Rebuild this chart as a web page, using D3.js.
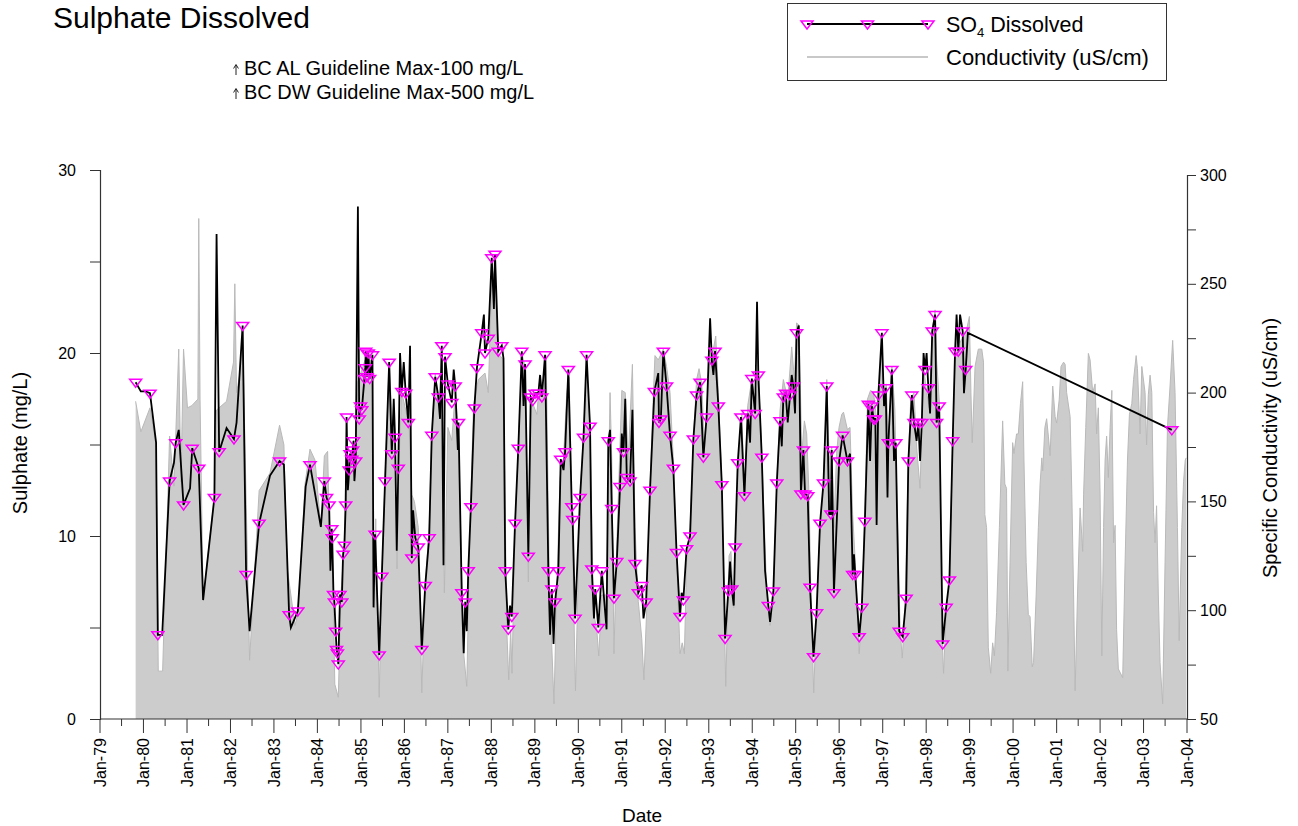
<!DOCTYPE html>
<html>
<head>
<meta charset="utf-8">
<script src="https://cdn.jsdelivr.net/npm/d3@7"></script>
<style>
  body { margin: 0; background: #fff; }
  svg text { font-family: "Liberation Sans", Arial, Helvetica, sans-serif; fill: #000; }
</style>
</head>
<body>
<svg id="chart" width="1298" height="826"></svg>
<script>
// Sulphate, dissolved (mg/L): [decimal year, value, marker drawn (1) or not (0)]
const so4 = [
  [1979.82,18.4,1],[1979.94,17.9,0],[1980.04,17.9,0],[1980.15,17.8,1],[1980.29,15.1,0],[1980.33,4.6,1],
  [1980.43,4.6,0],[1980.60,13.0,1],[1980.70,14.0,0],[1980.74,15.1,1],[1980.81,15.8,0],[1980.92,11.7,1],
  [1981.07,12.6,0],[1981.12,14.8,1],[1981.27,13.7,1],[1981.37,6.5,0],[1981.63,12.1,1],[1981.68,26.5,0],
  [1981.74,14.6,1],[1981.91,15.9,0],[1982.08,15.3,1],[1982.14,16.2,0],[1982.28,21.5,1],[1982.36,7.9,1],
  [1982.44,4.8,0],[1982.66,10.7,1],[1982.91,13.3,0],[1983.13,14.1,1],[1983.23,13.9,0],[1983.35,5.7,1],
  [1983.39,5.0,0],[1983.55,5.9,1],[1983.73,12.7,0],[1983.83,13.9,1],[1984.08,10.5,0],[1984.16,13.0,1],
  [1984.21,12.1,1],[1984.27,11.7,1],[1984.30,8.1,0],[1984.33,10.4,1],[1984.34,9.9,1],[1984.37,6.8,1],
  [1984.39,6.4,1],[1984.42,4.8,1],[1984.44,3.8,1],[1984.46,3.6,1],[1984.48,3.0,1],[1984.52,6.8,1],
  [1984.56,6.4,1],[1984.59,9.0,1],[1984.62,9.5,1],[1984.65,11.7,1],[1984.67,16.5,1],[1984.70,12.5,0],
  [1984.73,13.6,1],[1984.75,14.5,1],[1984.79,14.2,1],[1984.81,14.7,1],[1984.83,15.2,1],[1984.85,13.0,0],
  [1984.88,14.1,1],[1984.93,28.0,0],[1984.96,16.4,1],[1984.99,17.1,1],[1985.02,16.9,1],[1985.08,18.6,1],
  [1985.10,19.2,1],[1985.11,20.1,1],[1985.14,18.7,1],[1985.17,20.0,1],[1985.20,18.6,1],[1985.265,19.9,1],
  [1985.29,6.1,0],[1985.325,10.1,1],[1985.42,3.5,1],[1985.48,7.8,1],[1985.555,13.0,1],[1985.65,19.5,1],
  [1985.71,14.5,1],[1985.755,17.5,0],[1985.785,15.4,1],[1985.824,9.2,0],[1985.86,13.7,1],[1985.90,20.0,0],
  [1985.94,17.9,1],[1985.985,19.5,0],[1986.03,17.8,1],[1986.09,16.2,1],[1986.13,20.4,0],[1986.17,8.8,1],
  [1986.20,11.4,0],[1986.25,9.9,1],[1986.32,9.4,1],[1986.40,3.8,1],[1986.48,7.3,1],[1986.57,9.9,1],
  [1986.63,15.5,1],[1986.71,18.7,1],[1986.78,17.6,1],[1986.82,16.4,0],[1986.86,20.4,1],[1986.90,8.4,0],
  [1986.935,19.8,1],[1987.00,18.3,1],[1987.09,17.3,1],[1987.135,19.1,0],[1987.17,18.2,1],[1987.23,14.7,0],
  [1987.245,16.2,1],[1987.32,6.9,1],[1987.365,3.6,0],[1987.40,6.4,1],[1987.435,4.8,0],[1987.47,8.1,1],
  [1987.53,11.6,1],[1987.61,17.0,1],[1987.67,19.2,1],[1987.78,21.1,1],[1987.83,22.1,0],[1987.855,20.0,1],
  [1987.93,20.8,1],[1988.01,25.2,1],[1988.06,22.4,0],[1988.085,25.4,1],[1988.16,20.1,1],[1988.24,20.4,1],
  [1988.28,19.7,0],[1988.32,8.1,1],[1988.39,4.9,1],[1988.43,6.2,0],[1988.47,5.6,1],[1988.545,10.7,1],
  [1988.62,14.8,1],[1988.70,20.1,1],[1988.74,17.1,0],[1988.775,19.4,1],[1988.85,8.9,1],[1988.905,17.6,1],
  [1988.95,17.4,1],[1989.005,17.8,1],[1989.08,17.8,1],[1989.12,18.8,0],[1989.16,17.6,1],[1989.235,19.9,1],
  [1989.31,8.1,1],[1989.35,4.6,0],[1989.39,7.1,1],[1989.43,4.1,0],[1989.465,6.4,1],[1989.54,8.1,1],
  [1989.595,14.2,1],[1989.66,13.6,0],[1989.695,14.6,1],[1989.77,19.1,1],[1989.85,11.6,1],[1989.87,10.9,1],
  [1989.925,5.5,1],[1990.04,12.1,1],[1990.12,15.4,1],[1990.19,19.9,1],[1990.27,16.0,1],[1990.31,8.2,1],
  [1990.36,5.5,0],[1990.39,7.1,1],[1990.46,5.0,1],[1990.54,8.1,1],[1990.65,4.9,0],[1990.69,15.2,1],
  [1990.73,15.8,0],[1990.77,11.5,1],[1990.82,6.6,1],[1990.885,8.6,1],[1990.92,10.5,0],[1990.96,12.7,1],
  [1991.00,15.6,0],[1991.04,14.6,1],[1991.08,17.5,0],[1991.115,13.2,1],[1991.19,13.0,1],[1991.245,16.9,0],
  [1991.305,8.5,1],[1991.38,6.9,1],[1991.46,7.3,1],[1991.50,5.5,0],[1991.56,6.4,1],[1991.65,12.5,1],
  [1991.75,17.9,1],[1991.84,18.9,0],[1991.856,16.2,1],[1991.90,16.4,1],[1991.956,20.1,1],[1992.03,18.2,1],
  [1992.11,15.5,1],[1992.186,13.7,1],[1992.26,9.1,1],[1992.34,5.6,1],[1992.377,6.9,0],[1992.416,6.5,1],
  [1992.49,9.3,1],[1992.57,10.0,1],[1992.646,15.3,1],[1992.72,17.7,1],[1992.80,18.4,1],[1992.875,14.3,1],
  [1992.95,16.5,1],[1993.03,21.9,0],[1993.07,19.6,1],[1993.106,18.8,0],[1993.144,20.1,1],[1993.22,17.1,1],
  [1993.30,12.8,1],[1993.375,4.4,1],[1993.45,7.0,1],[1993.49,8.6,0],[1993.53,7.1,1],[1993.574,6.2,0],
  [1993.605,9.4,1],[1993.666,14.0,1],[1993.74,16.5,1],[1993.82,12.2,1],[1993.896,16.7,1],[1993.95,15.1,0],
  [1993.99,18.6,1],[1994.066,16.7,1],[1994.11,22.8,0],[1994.14,18.8,1],[1994.22,14.3,1],[1994.295,8.1,0],
  [1994.37,6.2,1],[1994.41,5.3,0],[1994.486,7.0,1],[1994.565,12.9,1],[1994.64,16.3,1],[1994.68,14.9,0],
  [1994.716,17.6,1],[1994.77,17.8,1],[1994.816,16.2,0],[1994.87,17.7,1],[1994.908,18.8,0],[1994.946,18.2,1],
  [1994.985,16.7,0],[1995.02,21.1,1],[1995.07,21.5,0],[1995.12,12.3,1],[1995.177,14.7,1],[1995.215,12.3,1],
  [1995.277,12.2,1],[1995.33,7.2,1],[1995.41,3.4,1],[1995.48,5.8,1],[1995.56,10.7,1],[1995.64,12.9,1],
  [1995.715,18.2,1],[1995.77,11.2,0],[1995.81,11.2,1],[1995.83,14.7,1],[1995.88,6.9,1],[1996.00,14.1,1],
  [1996.08,15.5,1],[1996.19,14.1,1],[1996.25,14.5,0],[1996.31,7.9,1],[1996.34,9.0,0],[1996.37,7.9,1],
  [1996.46,4.5,1],[1996.52,6.1,1],[1996.59,10.8,1],[1996.67,17.2,1],[1996.71,14.1,0],[1996.75,17.1,1],
  [1996.79,16.4,1],[1996.83,16.4,1],[1996.86,10.6,0],[1996.90,17.7,1],[1996.98,21.1,1],[1997.03,17.1,0],
  [1997.07,18.1,1],[1997.11,12.1,0],[1997.13,15.1,1],[1997.21,19.1,1],[1997.26,14.1,0],[1997.30,15.1,1],
  [1997.38,4.8,1],[1997.46,4.5,1],[1997.54,6.6,1],[1997.59,14.1,1],[1997.67,17.7,1],[1997.72,16.2,1],
  [1997.78,15.2,0],[1997.82,16.2,1],[1997.86,14.1,0],[1997.90,16.2,1],[1997.94,20.0,0],[1997.975,19.1,1],
  [1998.01,20.0,0],[1998.05,18.1,1],[1998.09,16.7,0],[1998.14,21.2,1],[1998.205,22.1,1],[1998.24,16.2,1],
  [1998.30,17.1,1],[1998.38,4.1,1],[1998.46,6.1,1],[1998.535,7.6,1],[1998.61,15.2,1],[1998.665,20.1,1],
  [1998.70,22.1,0],[1998.74,20.1,1],[1998.78,22.1,0],[1998.84,21.2,1],[1998.87,17.8,0],[1998.91,19.1,1],
  [1998.96,21.1,0],[2003.65,15.8,1]
];

// Specific conductivity (uS/cm): [decimal year, value]
const conductivity = [
  [1979.82,196],[1979.94,182],[1980.15,193],[1980.29,176],[1980.34,72],[1980.44,72],[1980.57,159],[1980.60,180],
  [1980.70,157],[1980.81,220],[1980.86,159],[1980.92,220],[1981.01,193],[1981.11,194],[1981.25,197],[1981.27,280],
  [1981.30,197],[1981.37,105],[1981.63,152],[1981.68,192],[1981.91,196],[1982.07,214],[1982.10,250],[1982.14,200],
  [1982.22,209],[1982.28,228],[1982.34,170],[1982.44,77],[1982.66,155],[1982.91,163],[1983.13,185],[1983.23,176],
  [1983.30,120],[1983.37,110],[1983.485,93],[1983.56,99],[1983.715,158],[1983.83,174],[1983.945,169],[1984.08,138],
  [1984.16,171],[1984.235,173],[1984.30,118],[1984.34,135],[1984.40,66],[1984.48,60],[1984.54,107],[1984.62,130],
  [1984.67,187],[1984.71,156],[1984.835,178],[1984.865,161],[1984.93,205],[1985.095,215],[1985.265,215],[1985.30,101],
  [1985.34,142],[1985.42,60],[1985.48,114],[1985.555,161],[1985.65,214],[1985.725,184],[1985.785,181],[1985.83,119],
  [1985.877,169],[1985.94,200],[1986.03,192],[1986.11,184],[1986.17,153],[1986.23,150],[1986.32,138],[1986.40,62],
  [1986.48,111],[1986.57,138],[1986.63,181],[1986.71,209],[1986.80,194],[1986.86,221],[1986.92,108],[1987.00,184],
  [1987.09,178],[1987.17,200],[1987.245,181],[1987.32,114],[1987.37,79],[1987.435,65],[1987.51,138],[1987.59,194],
  [1987.70,206],[1987.855,209],[1987.93,200],[1988.01,251],[1988.085,257],[1988.16,218],[1988.28,215],[1988.35,94],
  [1988.40,68],[1988.445,91],[1988.475,71],[1988.545,139],[1988.62,173],[1988.70,218],[1988.775,212],[1988.85,113],
  [1988.905,197],[1988.97,194],[1989.045,190],[1989.12,208],[1989.20,197],[1989.26,217],[1989.335,110],[1989.39,83],
  [1989.44,57],[1989.50,107],[1989.58,161],[1989.66,170],[1989.735,200],[1989.79,207],[1989.85,145],[1989.935,63],
  [1990.04,152],[1990.12,181],[1990.19,212],[1990.27,184],[1990.35,99],[1990.425,91],[1990.47,79],[1990.54,107],
  [1990.65,107],[1990.73,200],[1990.77,169],[1990.82,80],[1990.885,130],[1991.00,201],[1991.08,200],[1991.15,169],
  [1991.245,213],[1991.305,138],[1991.38,104],[1991.46,87],[1991.51,68],[1991.575,101],[1991.65,156],[1991.73,201],
  [1991.764,217],[1991.84,215],[1991.956,220],[1992.03,212],[1992.11,200],[1992.186,169],[1992.26,125],[1992.34,80],
  [1992.39,85],[1992.44,80],[1992.49,122],[1992.57,138],[1992.646,178],[1992.72,206],[1992.776,211],[1992.84,204],
  [1992.90,173],[1992.95,190],[1993.006,212],[1993.106,220],[1993.16,226],[1993.22,200],[1993.30,158],[1993.39,65],
  [1993.466,125],[1993.51,127],[1993.574,101],[1993.62,130],[1993.68,166],[1993.76,190],[1993.82,153],[1993.896,194],
  [1993.99,206],[1994.066,192],[1994.14,208],[1994.22,172],[1994.33,110],[1994.41,93],[1994.486,107],[1994.565,159],
  [1994.64,192],[1994.716,206],[1994.816,197],[1994.908,221],[1994.97,206],[1995.02,232],[1995.076,231],[1995.14,172],
  [1995.20,187],[1995.253,181],[1995.306,153],[1995.35,107],[1995.415,62],[1995.48,99],[1995.56,138],[1995.64,158],
  [1995.715,206],[1995.77,169],[1995.83,175],[1995.88,138],[1995.94,172],[1995.997,184],[1996.06,190],[1996.10,191],
  [1996.19,183],[1996.25,184],[1996.31,144],[1996.37,122],[1996.46,80],[1996.52,99],[1996.59,144],[1996.65,197],
  [1996.72,201],[1996.79,200],[1996.88,184],[1996.92,198],[1996.98,226],[1997.03,193],[1997.08,204],[1997.13,176],
  [1997.21,212],[1997.28,192],[1997.34,141],[1997.40,91],[1997.45,78],[1997.51,99],[1997.59,169],[1997.645,197],
  [1997.72,200],[1997.78,175],[1997.86,156],[1997.94,212],[1998.01,200],[1998.07,193],[1998.14,228],[1998.205,238],
  [1998.24,215],[1998.305,195],[1998.36,91],[1998.40,71],[1998.46,99],[1998.535,114],[1998.61,178],[1998.665,215],
  [1998.72,231],[1998.78,223],[1998.86,226],[1998.92,228],[1998.995,235],[1999.03,200],[1999.06,177],[1999.125,212],
  [1999.20,220],[1999.28,220],[1999.32,214],[1999.35,144],[1999.39,138],[1999.43,83],[1999.485,71],[1999.53,85],
  [1999.57,79],[1999.62,99],[1999.685,138],[1999.76,187],[1999.81,158],[1999.85,156],[1999.88,72],[1999.93,122],
  [1999.99,177],[2000.02,172],[2000.08,181],[2000.12,181],[2000.17,195],[2000.22,205],[2000.25,169],[2000.30,122],
  [2000.35,98],[2000.39,97],[2000.44,74],[2000.47,76],[2000.53,107],[2000.58,138],[2000.62,158],[2000.66,170],
  [2000.68,164],[2000.73,184],[2000.77,188],[2000.81,180],[2000.85,171],[2000.91,203],[2000.965,189],[2001.00,186],
  [2001.06,197],[2001.10,212],[2001.16,214],[2001.195,213],[2001.23,200],[2001.31,189],[2001.35,153],[2001.39,107],
  [2001.425,63],[2001.48,107],[2001.54,147],[2001.60,127],[2001.62,153],[2001.67,184],[2001.73,218],[2001.77,215],
  [2001.83,200],[2001.885,204],[2001.92,181],[2001.96,193],[2002.00,153],[2002.04,79],[2002.08,138],[2002.115,169],
  [2002.15,180],[2002.19,161],[2002.23,184],[2002.27,201],[2002.31,131],[2002.345,139],[2002.38,91],[2002.42,73],
  [2002.52,69],[2002.575,122],[2002.63,169],[2002.675,190],[2002.73,195],[2002.77,206],[2002.83,217],[2002.86,211],
  [2002.92,181],[2002.96,212],[2003.035,200],[2003.07,176],[2003.11,199],[2003.15,208],[2003.19,200],[2003.23,145],
  [2003.265,131],[2003.30,148],[2003.34,107],[2003.38,76],[2003.44,57],[2003.495,122],[2003.55,184],[2003.61,203],
  [2003.67,224],[2003.725,200],[2003.78,138],[2003.82,86],[2003.88,138],[2003.92,159],[2003.96,169],[2003.98,170]
];

const leftTicks = [0, 5, 10, 15, 20, 25, 30];
const leftLabels = [0, 10, 20, 30];
const rightTicks = [50, 75, 100, 125, 150, 175, 200, 225, 250, 275, 300];
const rightLabels = [50, 100, 150, 200, 250, 300];
const firstYear = 1979, lastYear = 2004;
const guidelines = ["BC AL Guideline Max-100 mg/L", "BC DW Guideline Max-500 mg/L"];

// decimal year -> Date
function toDate(y) {
  const yr = Math.floor(y);
  const start = new Date(yr, 0, 1), end = new Date(yr + 1, 0, 1);
  return new Date(+start + (y - yr) * (end - start));
}

const svg = d3.select("#chart");
const x = d3.scaleTime().domain([new Date(firstYear, 0, 1), new Date(lastYear, 0, 1)]).range([100, 1187]);
const yL = d3.scaleLinear().domain([0, 30]).range([719, 170]);
const yR = d3.scaleLinear().domain([50, 300]).range([719, 175]);

const condData = conductivity.map(d => ({ date: toDate(d[0]), v: d[1] }));
const so4Data = so4.map(d => ({ date: toDate(d[0]), v: d[1], m: d[2] }));

// conductivity: grey filled area with a slightly darker outline
svg.append("path").datum(condData)
  .attr("d", d3.area().x(d => x(d.date)).y0(yR(50)).y1(d => yR(d.v)))
  .attr("fill", "#cccccc");
svg.append("path").datum(condData)
  .attr("d", d3.line().x(d => x(d.date)).y(d => yR(d.v)))
  .attr("fill", "none").attr("stroke", "#b9b9b9").attr("stroke-width", 1);

// sulphate line
svg.append("path").datum(so4Data)
  .attr("d", d3.line().x(d => x(d.date)).y(d => yL(d.v)))
  .attr("fill", "none").attr("stroke", "#000").attr("stroke-width", 1.8)
  .attr("stroke-linejoin", "miter");

// downward triangle markers
const tri = "M-6,-3L6,-3L0,5Z";
svg.append("g").selectAll("path").data(so4Data.filter(d => d.m))
  .join("path")
  .attr("d", tri)
  .attr("transform", d => `translate(${x(d.date)},${yL(d.v)})`)
  .attr("fill", "none").attr("stroke", "#ff00ff").attr("stroke-width", 1.5);

// left axis
const axisColor = "#333";
const gL = svg.append("g").attr("transform", "translate(100,0)")
  .call(d3.axisLeft(yL).tickValues(leftTicks).tickSize(10).tickPadding(14)
    .tickFormat(d => leftLabels.includes(d) ? d : ""));
// right axis
const gR = svg.append("g").attr("transform", "translate(1187,0)")
  .call(d3.axisRight(yR).tickValues(rightTicks).tickSize(9).tickPadding(4)
    .tickFormat(d => rightLabels.includes(d) ? d : ""));
[gL, gR].forEach(g => {
  g.select(".domain").attr("stroke", axisColor).attr("stroke-width", 1.2);
  g.selectAll(".tick line").attr("stroke", axisColor);
  g.selectAll(".tick text").attr("font-size", 16).attr("font-family", "Liberation Sans, Arial, sans-serif");
});

// bottom axis: ticks every six months, labels on each January
const gB = svg.append("g");
gB.append("line").attr("x1", 100).attr("x2", 1187).attr("y1", 719).attr("y2", 719)
  .attr("stroke", axisColor).attr("stroke-width", 1.2);
const halfYears = d3.timeMonth.every(6).range(new Date(firstYear, 0, 1), new Date(lastYear, 0, 2));
gB.selectAll("line.t").data(halfYears).join("line").attr("class", "t")
  .attr("x1", d => x(d)).attr("x2", d => x(d))
  .attr("y1", 719).attr("y2", d => d.getMonth() === 0 ? 733 : 726)
  .attr("stroke", axisColor);
const fmt = d3.timeFormat("%b-%y");
gB.selectAll("text").data(halfYears.filter(d => d.getMonth() === 0)).join("text")
  .attr("transform", d => `translate(${x(d)},738) rotate(-90)`)
  .attr("dy", "0.35em").attr("text-anchor", "end").attr("font-size", 16)
  .text(d => fmt(d));

// axis titles
svg.append("text").attr("transform", "translate(27,443) rotate(-90)")
  .attr("text-anchor", "middle").attr("font-size", 20).text("Sulphate (mg/L)");
svg.append("text").attr("transform", "translate(1277,448) rotate(-90)")
  .attr("text-anchor", "middle").attr("font-size", 20).text("Specific Conductivity (uS/cm)");
svg.append("text").attr("x", 642).attr("y", 822)
  .attr("text-anchor", "middle").attr("font-size", 19).text("Date");

// title
svg.append("text").attr("x", 53).attr("y", 28).attr("font-size", 30).text("Sulphate Dissolved");

// guideline notes, each with a small upward arrow
guidelines.forEach((g, i) => {
  const base = 75 + i * 24;
  svg.append("path")
    .attr("d", `M236,${base}V${base - 10}M233.6,${base - 6.5}L236,${base - 10.5}L238.4,${base - 6.5}`)
    .attr("fill", "none").attr("stroke", "#222").attr("stroke-width", 1);
  svg.append("text").attr("x", 244).attr("y", base).attr("font-size", 20).text(g);
});

// legend
const lg = svg.append("g");
lg.append("rect").attr("x", 787.5).attr("y", 3.5).attr("width", 379).attr("height", 77)
  .attr("fill", "#fff").attr("stroke", "#333").attr("stroke-width", 1);
lg.append("line").attr("x1", 807).attr("x2", 928).attr("y1", 24).attr("y2", 24)
  .attr("stroke", "#000").attr("stroke-width", 1.8);
[807, 867.5, 928].forEach(px => lg.append("path").attr("d", tri)
  .attr("transform", `translate(${px},24)`).attr("fill", "none")
  .attr("stroke", "#ff00ff").attr("stroke-width", 1.5));
lg.append("line").attr("x1", 807).attr("x2", 928).attr("y1", 57).attr("y2", 57)
  .attr("stroke", "#c8c8c8").attr("stroke-width", 2);
const l1 = lg.append("text").attr("x", 946).attr("y", 32).attr("font-size", 21.5);
l1.append("tspan").text("SO");
l1.append("tspan").attr("font-size", 13).attr("dy", 5).text("4");
l1.append("tspan").attr("dy", -5).text(" Dissolved");
lg.append("text").attr("x", 946).attr("y", 65).attr("font-size", 22).text("Conductivity (uS/cm)");
</script>
</body>
</html>
